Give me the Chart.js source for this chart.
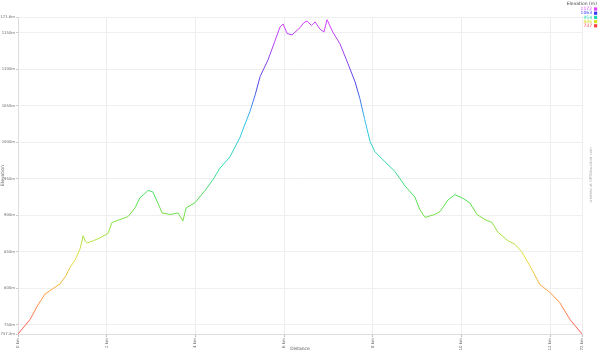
<!DOCTYPE html>
<html>
<head>
<meta charset="utf-8">
<script src="https://cdn.jsdelivr.net/npm/chart.js@4.4.1/dist/chart.umd.min.js"></script>
<style>
html,body{margin:0;padding:0;background:#fff;}
#wrap{width:600px;height:352px;position:relative;}
</style>
</head>
<body>
<div id="wrap"><canvas id="c" width="600" height="352"></canvas></div>
<script>
const distances = [0, 0.27, 0.45, 0.61, 0.78, 0.95, 1.08, 1.17, 1.30, 1.40, 1.47, 1.52, 1.56, 1.70, 1.85, 2.03, 2.12, 2.30, 2.48, 2.64, 2.75, 2.85, 2.93, 3.04, 3.16, 3.25, 3.43, 3.61, 3.72, 3.79, 3.99, 4.22, 4.40, 4.55, 4.78, 5.01, 5.07, 5.23, 5.35, 5.46, 5.64, 5.79, 5.91, 5.98, 6.07, 6.18, 6.36, 6.45, 6.52, 6.62, 6.70, 6.81, 6.90, 6.97, 7.10, 7.26, 7.44, 7.60, 7.71, 7.82, 7.94, 8.05, 8.28, 8.50, 8.73, 8.95, 9.06, 9.18, 9.40, 9.52, 9.70, 9.85, 10.01, 10.19, 10.35, 10.53, 10.69, 10.82, 11.05, 11.21, 11.36, 11.54, 11.77, 12.00, 12.22, 12.45, 12.72];
const elevations = [737.2, 757, 777, 792, 799, 806, 817, 828, 840, 854, 872, 864, 862, 865, 869, 875, 890, 894, 898, 910, 924, 929, 934, 932, 916, 903, 901, 903, 892, 910, 917, 934, 949, 964, 980, 1007, 1017, 1042, 1065, 1090, 1113, 1138, 1158, 1162, 1149, 1147, 1157, 1164, 1166, 1160, 1165, 1155, 1151, 1168, 1151, 1135, 1108, 1083, 1060, 1031, 1001, 987, 973, 960, 940, 925, 908, 897, 901, 905, 921, 928, 924, 917, 901, 894, 890, 877, 865, 860, 850, 831, 805, 794, 780, 757, 737.2];
const yTicks = [737.2, 750, 800, 850, 900, 950, 1000, 1050, 1100, 1150, 1171.6];
const xTicks = [0, 2, 4, 6, 8, 10, 12, 12.72];
const legendLabels = ["1172", "1063", "954", "846", "737"];
const legendColors = ["#e040ff", "#3b3bff", "#20d8b0", "#d8e030", "#ff4040"];

const points = distances.map((d, i) => ({x: d, y: elevations[i]}));

const colorStops = [
  [737, "#ff5a5a"], [790, "#ff9a40"], [840, "#e8e040"], [880, "#98e040"],
  [920, "#55e050"], [975, "#30d8b8"], [1030, "#30c0f0"], [1075, "#4848e8"],
  [1120, "#9a40f0"], [1172, "#e040ff"]
];

function gradientFor(chart) {
  const area = chart.chartArea;
  if (!area) return "#888";
  const ys = chart.scales.y;
  const g = chart.ctx.createLinearGradient(0, area.bottom, 0, area.top);
  const span = area.bottom - area.top;
  colorStops.forEach(([v, c]) => {
    let p = (area.bottom - ys.getPixelForValue(v)) / span;
    p = Math.max(0, Math.min(1, p));
    g.addColorStop(p, c);
  });
  return g;
}

const extras = {
  id: "extras",
  afterDraw(chart) {
    const ctx = chart.ctx;
    ctx.save();
    ctx.font = "4.5px 'DejaVu Sans', sans-serif";
    ctx.textBaseline = "middle";
    ctx.fillStyle = "#444";
    ctx.textAlign = "right";
    ctx.fillText("Elevation (m)", 597, 4);
    legendLabels.forEach((t, i) => {
      const y = 9 + i * 4.2;
      ctx.fillStyle = legendColors[i];
      ctx.fillText(t, 592, y);
      ctx.fillRect(594, y - 1.6, 3.2, 3.2);
    });
    ctx.translate(591, 175);
    ctx.rotate(-Math.PI / 2);
    ctx.textAlign = "center";
    ctx.fillStyle = "#aaa";
    ctx.font = "3.8px 'DejaVu Sans', sans-serif";
    ctx.fillText("created at GPSVisualizer.com", 0, 0);
    ctx.restore();
  }
};

new Chart(document.getElementById("c"), {
  type: "line",
  data: {
    datasets: [{
      data: points,
      borderColor: (ctx) => gradientFor(ctx.chart),
      borderWidth: 1,
      pointRadius: 0,
      tension: 0,
      fill: false
    }]
  },
  options: {
    responsive: false,
    animation: false,
    devicePixelRatio: 1,
    layout: {padding: {top: 17, right: 18, left: 0, bottom: 0}},
    plugins: {legend: {display: false}, tooltip: {enabled: false}},
    scales: {
      x: {
        type: "linear",
        min: 0,
        max: 12.72,
        afterBuildTicks(s) { s.ticks = xTicks.map(v => ({value: v})); },
        afterFit(s) { s.height = 18; },
        ticks: {
          autoSkip: false,
          minRotation: 90, maxRotation: 90,
          padding: 1,
          color: "#666",
          font: {size: 4, family: "'DejaVu Sans', sans-serif"},
          callback: (v) => (v === 12.72 ? "12.72 km" : v + " km")
        },
        grid: {color: "#ededed", lineWidth: 1, tickLength: 3, tickColor: "#bbb"},
        border: {color: "#ddd"},
        title: {display: true, text: "Distance", color: "#555", padding: 0,
                font: {size: 4.5, family: "'DejaVu Sans', sans-serif"}}
      },
      y: {
        type: "linear",
        min: 737.2,
        max: 1171.6,
        afterBuildTicks(s) { s.ticks = yTicks.map(v => ({value: v})); },
        afterFit(s) { s.width = 18; },
        ticks: {
          autoSkip: false,
          padding: 1,
          color: "#666",
          font: {size: 3.8, family: "'DejaVu Sans', sans-serif"},
          callback: (v) => v + "m"
        },
        grid: {color: "#efefef", lineWidth: 1, tickLength: 2, tickColor: "#ccc"},
        border: {color: "#ddd"},
        title: {display: true, text: "Elevation", color: "#555", padding: 0,
                font: {size: 4.5, family: "'DejaVu Sans', sans-serif"}}
      }
    }
  },
  plugins: [extras]
});
</script>
</body>
</html>
